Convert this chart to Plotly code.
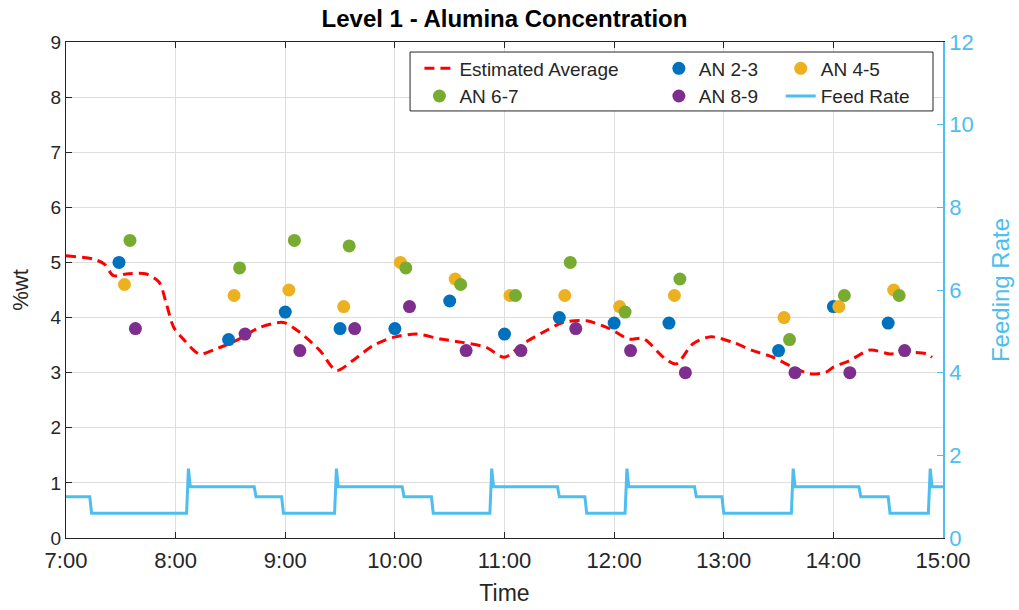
import plotly.graph_objects as go

DAY = "2020-01-01 "

# ---- Estimated average (%wt) ----
avg_time = ["7:00", "7:15", "7:21", "7:26", "7:33", "7:44", "7:51", "7:55", "7:59", "8:05",
            "8:13", "8:22", "8:33", "8:46", "8:59", "9:08", "9:19", "9:28", "9:37", "9:48",
            "9:59", "10:12", "10:25", "10:37", "10:50", "11:00", "11:10", "11:21", "11:32", "11:45",
            "11:58", "12:08", "12:16", "12:27", "12:34", "12:43", "12:53", "13:05", "13:16", "13:27",
            "13:36", "13:47", "13:56", "14:00", "14:09", "14:20", "14:31", "14:40", "14:51", "14:54"]
avg_val = [5.12, 5.06, 4.97, 4.76, 4.79, 4.79, 4.64, 4.24, 3.82, 3.58,
           3.34, 3.43, 3.58, 3.82, 3.91, 3.73, 3.40, 3.04, 3.22, 3.49,
           3.64, 3.70, 3.61, 3.55, 3.46, 3.28, 3.52, 3.73, 3.91, 3.94,
           3.79, 3.61, 3.62, 3.28, 3.16, 3.52, 3.65, 3.55, 3.40, 3.28,
           3.13, 2.98, 3.01, 3.10, 3.22, 3.41, 3.34, 3.37, 3.34, 3.28]

# ---- Anode measurements (%wt) ----
an23_time = ["7:29", "8:29", "9:00", "9:30", "10:00", "10:30", "11:00", "11:30", "12:00", "12:30", "13:30", "14:00", "14:30"]
an23_val = [5.00, 3.60, 4.10, 3.80, 3.80, 4.30, 3.70, 4.00, 3.90, 3.90, 3.40, 4.20, 3.90]

an45_time = ["7:32", "8:32", "9:02", "9:32", "10:03", "10:33", "11:03", "11:33", "12:03", "12:33", "13:33", "14:03", "14:33"]
an45_val = [4.60, 4.40, 4.50, 4.20, 5.00, 4.70, 4.40, 4.40, 4.20, 4.40, 4.00, 4.20, 4.50]

an67_time = ["7:35", "8:35", "9:05", "9:35", "10:06", "10:36", "11:06", "11:36", "12:06", "12:36", "13:36", "14:06", "14:36"]
an67_val = [5.40, 4.90, 5.40, 5.30, 4.90, 4.60, 4.40, 5.00, 4.10, 4.70, 3.60, 4.40, 4.40]

an89_time = ["7:38", "8:38", "9:08", "9:38", "10:08", "10:39", "11:09", "11:39", "12:09", "12:39", "13:39", "14:09", "14:39"]
an89_val = [3.80, 3.70, 3.40, 3.80, 4.20, 3.40, 3.40, 3.80, 3.40, 3.00, 3.00, 3.00, 3.40]

# ---- Feed rate (right axis) ----
feed_time = ["7:00", "7:13", "7:14", "8:06", "8:07", "8:08", "8:43", "8:44", "8:58", "8:59",
             "9:27", "9:28", "9:29", "10:04", "10:05", "10:20", "10:21", "10:52", "10:53", "10:54",
             "11:29", "11:30", "11:44", "11:45", "12:06", "12:07", "12:08", "12:44", "12:45", "12:59",
             "13:00", "13:37", "13:38", "13:39", "14:14", "14:15", "14:30", "14:31", "14:52", "14:53",
             "14:54", "15:00"]
feed_val = [1.00, 1.00, 0.60, 0.60, 1.68, 1.24, 1.24, 1.00, 1.00, 0.60,
            0.60, 1.68, 1.24, 1.24, 1.00, 1.00, 0.60, 0.60, 1.68, 1.24,
            1.24, 1.00, 1.00, 0.60, 0.60, 1.68, 1.24, 1.24, 1.00, 1.00,
            0.60, 0.60, 1.68, 1.24, 1.24, 1.00, 1.00, 0.60, 0.60, 1.68,
            1.24, 1.24]

x_range = ["7:00", "15:00"]

def ts(lst):
    return [DAY + t for t in lst]

FONT = "Liberation Sans, Arial, sans-serif"
BLACK = "#262626"
FEED = "#4DBEEE"
GRID = "#DEDEDE"

fig = go.Figure()

fig.add_trace(go.Scatter(x=ts(avg_time), y=avg_val, mode="lines", name="Estimated Average",
                         line=dict(color="#FF0000", width=3, dash="10px,6px", shape="spline", smoothing=0.8),
                         legend="legend"))
fig.add_trace(go.Scatter(x=ts(an23_time), y=an23_val, mode="markers", name="AN 2-3",
                         marker=dict(color="#0072BD", size=13), legend="legend2"))
fig.add_trace(go.Scatter(x=ts(an45_time), y=an45_val, mode="markers", name="AN 4-5",
                         marker=dict(color="#EDB120", size=13), legend="legend3"))
fig.add_trace(go.Scatter(x=ts(an67_time), y=an67_val, mode="markers", name="AN 6-7",
                         marker=dict(color="#77AC30", size=13), legend="legend"))
fig.add_trace(go.Scatter(x=ts(an89_time), y=an89_val, mode="markers", name="AN 8-9",
                         marker=dict(color="#7E2F8E", size=13), legend="legend2"))
fig.add_trace(go.Scatter(x=ts(feed_time), y=feed_val, mode="lines", name="Feed Rate",
                         line=dict(color=FEED, width=3), yaxis="y2", legend="legend3"))

leg_common = dict(bgcolor="rgba(0,0,0,0)", borderwidth=0, orientation="v",
                  xanchor="left", yanchor="top", y=0.985, tracegroupgap=0,
                  itemwidth=30, font=dict(family=FONT, size=19, color=BLACK))

fig.update_layout(
    width=1019, height=610,
    margin=dict(l=66, r=76, t=42, b=72, autoexpand=False),
    paper_bgcolor="white", plot_bgcolor="white",
    font=dict(family=FONT, color=BLACK),
    title=dict(text="Level 1 - Alumina Concentration", x=0.4951, xanchor="center",
               y=0.970, yanchor="middle",
               font=dict(family=FONT, size=24, color="black", weight="bold")),
    xaxis=dict(type="date", range=ts(x_range), dtick=3600000, tickformat="%-H:%M",
               showgrid=True, gridcolor=GRID, gridwidth=1, automargin=False,
               showline=True, linecolor=BLACK, linewidth=1, mirror="ticks",
               ticks="inside", ticklen=6, tickcolor=BLACK, ticklabelstandoff=3,
               tickfont=dict(family=FONT, size=22, color=BLACK),
               title=dict(text="Time", font=dict(family=FONT, size=23, color=BLACK), standoff=12),
               zeroline=False),
    yaxis=dict(range=[0, 9], dtick=1, showgrid=True, gridcolor=GRID, gridwidth=1, automargin=False,
               showline=True, linecolor=BLACK, linewidth=1,
               ticks="inside", ticklen=6, tickcolor=BLACK,
               tickfont=dict(family=FONT, size=19, color=BLACK),
               title=dict(text="%wt", font=dict(family=FONT, size=22, color=BLACK), standoff=15),
               zeroline=False),
    yaxis2=dict(range=[0, 12], dtick=2, overlaying="y", side="right", showgrid=False, automargin=False,
                showline=True, linecolor=FEED, linewidth=1.5,
                ticks="inside", ticklen=6, tickcolor=FEED,
                tickfont=dict(family=FONT, size=22, color=FEED),
                title=dict(text="Feeding Rate", font=dict(family=FONT, size=24, color=FEED), standoff=20),
                zeroline=False),
    legend=dict(x=0.403, **leg_common),
    legend2=dict(x=0.676, **leg_common),
    legend3=dict(x=0.815, **leg_common),
    shapes=[dict(type="rect", xref="paper", yref="paper", x0=0.3923, x1=0.9886, y0=0.861, y1=0.9798,
                 fillcolor="white", line=dict(color=BLACK, width=1), layer="above")],
)

fig.write_html("out.html")
